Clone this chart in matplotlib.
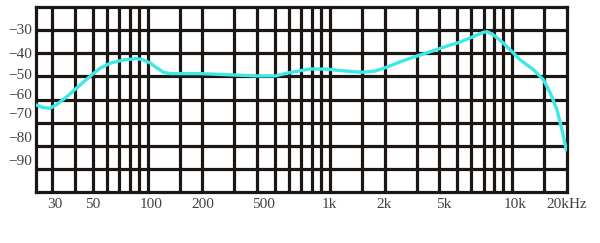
import matplotlib
matplotlib.use("Agg")
import matplotlib.pyplot as plt
from matplotlib.ticker import FixedLocator, NullFormatter

# Frequency response data (Hz, dB)
freq = [24.5, 26.7, 29.1, 31.4, 36.0, 42.6, 49.3, 54.8, 62.2, 73.6, 87.3, 94.9,
        103.2, 110, 122, 133, 194, 296, 400, 502, 591, 781, 981, 1142, 1503,
        1778, 1977, 2204, 2438, 3013, 3716, 4592, 5101, 6150, 6998, 7330, 7943,
        9010, 9817, 11140, 13180, 14960, 16290, 17710, 18880, 19920]
level = [-62.4, -63.5, -63.8, -62.4, -58.8, -53.7, -49.4, -46.5, -44.3, -42.9,
         -42.3, -42.9, -44.2, -45.8, -48.2, -48.8, -48.8, -49.4, -49.8, -49.8,
         -48.5, -46.8, -46.9, -47.5, -48.2, -47.7, -46.5, -45.1, -43.7, -41.2,
         -38.9, -36.4, -35.4, -32.8, -30.9, -30.7, -32.1, -35.7, -38.6, -42.9,
         -47.2, -51.6, -57.3, -64.5, -73.2, -81.8]

# Grid lines
vgrid = [30, 40, 50, 60, 70, 80, 90, 100, 150, 200, 300, 400, 500, 600, 700,
         800, 900, 1000, 1500, 2000, 3000, 4000, 5000, 6000, 7000, 8000, 9000,
         10000, 15000]
hgrid = [-30, -40, -50, -60, -70, -80, -90]

# Tick labels
xlabels = ["30", "50", "100", "200", "500", "1k", "2k", "5k", "10k", "20kHz"]
xlabel_pos = [31.0, 50.0, 105, 202, 433, 1000, 2000, 4220, 10500, 20000]
ylabels = ["\u221230", "\u221240", "\u221250", "\u221260", "\u221270", "\u221280", "\u221290"]
ylabel_pos = [-29.6, -40.1, -49.0, -57.6, -66.0, -76.1, -86.2]

fig = plt.figure(figsize=(6, 2.43), dpi=100)
ax = fig.add_axes([35.7 / 600, 1 - 192 / 243, (567 - 35.7) / 600, (192 - 7) / 243])
ax.set_xscale("log")
ax.set_xlim(24.3, 20100)
ax.set_ylim(-100, -20)

gridc = "#1c1714"
lw = 2.3
for v in vgrid:
    ax.axvline(v, color=gridc, lw=lw, zorder=1)
for h in hgrid:
    ax.axhline(h, color=gridc, lw=lw, zorder=1)
for s in ax.spines.values():
    s.set_color(gridc)
    s.set_linewidth(lw)

ax.plot(freq, level, color="#3ee8e6", lw=2.4, solid_joinstyle="round",
        solid_capstyle="round", zorder=3)

ax.xaxis.set_major_locator(FixedLocator(xlabel_pos))
ax.set_xticklabels(xlabels)
ax.xaxis.set_minor_locator(FixedLocator([]))
ax.xaxis.set_minor_formatter(NullFormatter())
ax.set_yticks(ylabel_pos)
ax.set_yticklabels(ylabels)
ax.tick_params(axis="both", length=0, labelsize=11, labelcolor="#404040")
ax.tick_params(axis="x", pad=4)
ax.tick_params(axis="y", pad=2.5)
for t in ax.get_xticklabels() + ax.get_yticklabels():
    t.set_family("Liberation Serif")

fig.savefig("out.png", dpi=100)
